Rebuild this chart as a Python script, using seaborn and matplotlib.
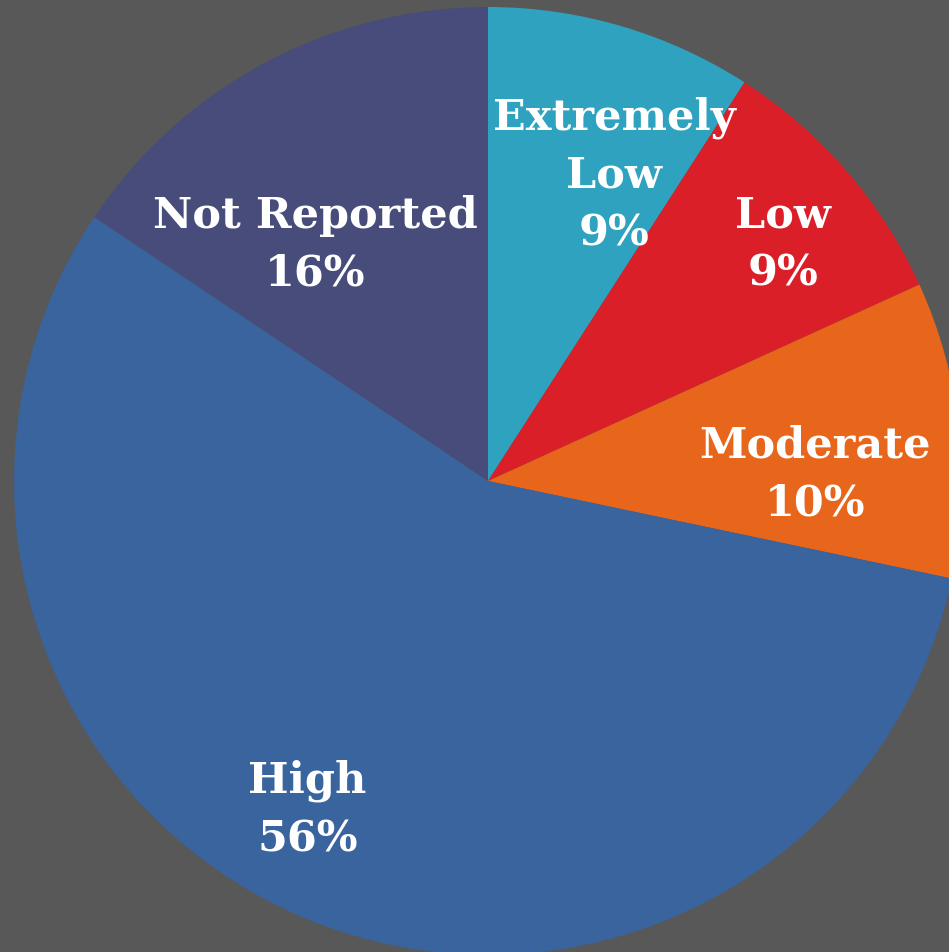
import numpy as np
import matplotlib
matplotlib.use('Agg')
import matplotlib.pyplot as plt
import seaborn as sns

categories = ['Extremely\nLow', 'Low', 'Moderate', 'High', 'Not Reported']
shares = [9.1, 9.1, 10.1, 56.1, 15.6]
colors = ['#2EA2BF', '#DA1F28', '#E8661C', '#3A649E', '#474C7A']

# label placement: radius fraction and angle shift (deg) relative to wedge middle
label_r = [0.70, 0.80, 0.69, 0.79, 0.62]
label_shift = [-6, -2, -5, -6, 8]

sns.set_theme(style='white')
plt.rcParams['font.family'] = ['DejaVu Serif']

fig = plt.figure(figsize=(9.49, 9.53), dpi=100)
fig.patch.set_facecolor('#585858')
ax = fig.add_axes([0, 0, 1, 1])
ax.set_facecolor('#585858')

wedges, _ = ax.pie(shares, colors=colors, startangle=90, counterclock=False,
                   radius=1.0, wedgeprops=dict(linewidth=0))

for w, cat, val, r, s in zip(wedges, categories, shares, label_r, label_shift):
    ang = np.deg2rad((w.theta1 + w.theta2) / 2 + s)
    ax.text(r * np.cos(ang), r * np.sin(ang), f'{cat}\n{val:.0f}%',
            ha='center', va='center', color='white', fontsize=31,
            fontweight='heavy', linespacing=1.48)

R = 474
ax.set_xlim(-488 / R, 461 / R)
ax.set_ylim(-471 / R, 482 / R)
ax.set_aspect('auto')
ax.axis('off')

plt.savefig('out.png', dpi=100, facecolor=fig.get_facecolor())
